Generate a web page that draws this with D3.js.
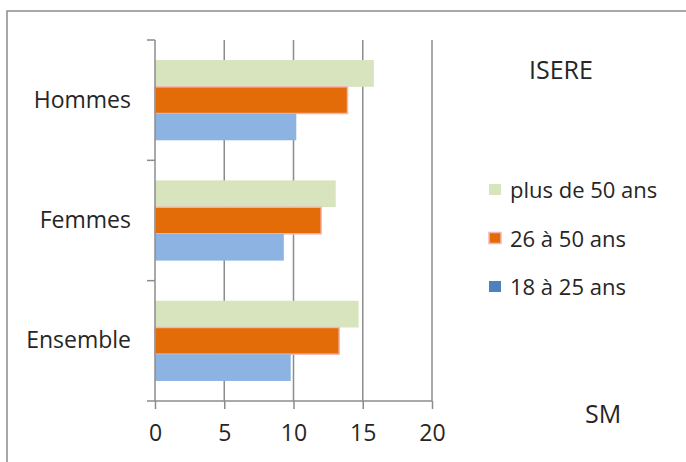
<!DOCTYPE html>
<html>
<head>
<meta charset="utf-8">
<script src="https://cdn.jsdelivr.net/npm/d3@7"></script>
<style>
	body { margin: 0; background: #fff; }
	svg text { font-family: "Open Sans", sans-serif; fill: #262626; }
</style>
</head>
<body>
<div id="chart"></div>
<script>
// data
var categories = ['Hommes', 'Femmes', 'Ensemble'];
var series = ['plus de 50 ans', '26 à 50 ans', '18 à 25 ans'];
var values = {
	'plus de 50 ans': [15.8, 13.05, 14.7],
	'26 à 50 ans': [13.9, 12.0, 13.3],
	'18 à 25 ans': [10.2, 9.3, 9.8]
};
var x_ticks = [0, 5, 10, 15, 20];

var bar_colors = ['#d7e4bd', '#e36c09', '#8db3e2'];
var legend_colors = ['#d7e4bd', '#e36c09', '#4f81bd'];
var bar_strokes = [null, '#f2b8b8', null];

var W = 686, H = 462;
var margin = {top: 40, left: 155};
var width = 277, height = 361;

var svg = d3.select('#chart').append('svg')
	.attr('width', W)
	.attr('height', H);

// frame
svg.append('rect')
	.attr('x', 7).attr('y', 11)
	.attr('width', W + 10).attr('height', H + 10)
	.attr('fill', 'none')
	.attr('stroke', '#8c8c8c')
	.attr('stroke-width', 1.5);

var g = svg.append('g')
	.attr('transform', 'translate(' + margin.left + ',' + margin.top + ')');

var x_scale = d3.scaleLinear().domain([0, 20]).range([0, width]);
var y_scale = d3.scaleBand().domain(categories).range([0, height]);
var y_inner = d3.scaleBand().domain(series).range([0, y_scale.bandwidth()]).paddingOuter(0.75);

// grid lines
g.selectAll('.grid')
	.data(x_ticks.slice(1))
	.enter().append('line')
	.attr('class', 'grid')
	.attr('x1', function(d) { return x_scale(d); })
	.attr('x2', function(d) { return x_scale(d); })
	.attr('y1', 0)
	.attr('y2', height)
	.attr('stroke', '#8c8c8c')
	.attr('stroke-width', 1.5);

// bars
series.forEach(function(s, i) {
	g.selectAll('.bar-' + i)
		.data(categories)
		.enter().append('rect')
		.attr('class', 'bar-' + i)
		.attr('x', x_scale(0))
		.attr('y', function(d) { return y_scale(d) + y_inner(s); })
		.attr('width', function(d, j) { return x_scale(values[s][j]) - x_scale(0); })
		.attr('height', y_inner.bandwidth())
		.attr('fill', bar_colors[i])
		.attr('stroke', bar_strokes[i] || 'none')
		.attr('stroke-width', 1.5);
});

// x axis
var x_axis = g.append('g')
	.attr('transform', 'translate(0,' + height + ')')
	.call(d3.axisBottom(x_scale).tickValues(x_ticks).tickSize(8).tickPadding(16));
x_axis.select('.domain').attr('stroke', '#8c8c8c').attr('stroke-width', 1.5)
	.attr('d', 'M-8,0H' + width);
x_axis.selectAll('line').attr('stroke', '#8c8c8c').attr('stroke-width', 1.5);
x_axis.selectAll('text').attr('font-size', 23).attr('fill', '#262626')
	.style('font-family', '"Open Sans", sans-serif');

// y axis
var y_axis = g.append('g')
	.call(d3.axisLeft(y_scale).tickSize(0).tickPadding(24));
y_axis.select('.domain').attr('stroke', '#8c8c8c').attr('stroke-width', 1.5)
	.attr('d', 'M0,0V' + height);
y_axis.selectAll('text').attr('font-size', 23).attr('fill', '#262626')
	.style('font-family', '"Open Sans", sans-serif');

// category separators on y axis
g.selectAll('.ytick')
	.data(categories)
	.enter().append('line')
	.attr('x1', -8).attr('x2', 0)
	.attr('y1', function(d) { return y_scale(d); })
	.attr('y2', function(d) { return y_scale(d); })
	.attr('stroke', '#8c8c8c')
	.attr('stroke-width', 1.5);

// title
svg.append('text')
	.attr('x', 529).attr('y', 79)
	.attr('font-size', 25)
	.text('ISERE');

svg.append('text')
	.attr('x', 585).attr('y', 423)
	.attr('font-size', 25)
	.text('SM');

// legend
var legend = svg.append('g');
var item = legend.selectAll('g')
	.data(series)
	.enter().append('g')
	.attr('transform', function(d, i) { return 'translate(489,' + (184 + i * 48.5) + ')'; });
item.append('rect')
	.attr('width', 12).attr('height', 11)
	.attr('fill', function(d, i) { return legend_colors[i]; })
	.attr('stroke', function(d, i) { return bar_strokes[i] || 'none'; })
	.attr('stroke-width', 1.5);
item.append('text')
	.attr('x', 21).attr('y', 14)
	.attr('font-size', 22)
	.text(function(d) { return d; });
</script>
</body>
</html>
